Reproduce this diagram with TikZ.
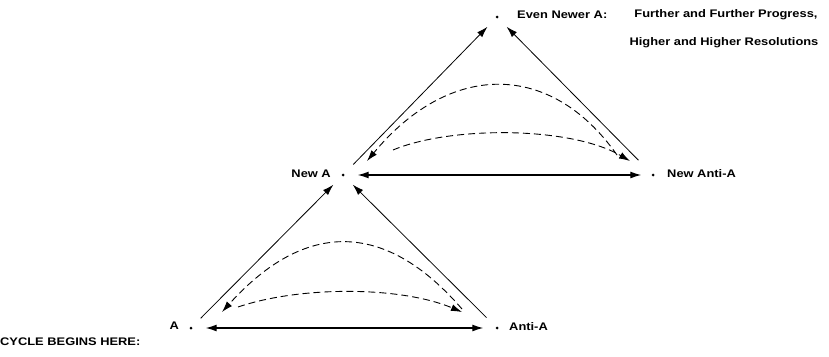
\documentclass[tikz,border=0pt]{standalone}
\usepackage{fontspec}
\setmainfont{Liberation Sans}[FakeStretch=1.17]
\usetikzlibrary{arrows.meta}
\begin{document}
\begin{tikzpicture}[x=1pt,y=-1pt,
  dot/.style={circle,fill=black,inner sep=0pt,minimum size=3pt},
  lbl/.style={inner sep=0pt,font=\fontsize{11}{13}\selectfont\bfseries},
  tip/.style={-{Latex[length=11pt,width=7pt]}},
  solidarr/.style={tip,line width=0.8pt},
  duoarr/.style={{Latex[length=11pt,width=7pt]}-{Latex[length=11pt,width=7pt]},line width=1.3pt},
  dasharr/.style={tip,line width=0.9pt,dash pattern=on 7pt off 4pt}]
\useasboundingbox (0,0) rectangle (829,356);
% dots
\node[dot] (A) at (191,328) {};
\node[dot] (AA) at (497,328) {};
\node[dot] (NA) at (343,175) {};
\node[dot] (NAA) at (653,175) {};
\node[dot] (ENA) at (497,17) {};
% labels
\node[lbl,anchor=east] (lA) at (179,326) {A};
\node[lbl,anchor=west] (lAA) at (509,327) {Anti-A};
\node[lbl,anchor=east] (lNA) at (331,174) {New A};
\node[lbl,anchor=west] (lNAA) at (667,174) {New Anti-A};
\node[lbl,anchor=west] (lENA) at (517,15) {Even Newer A:};
\node[lbl] (lF) at (726,15) {Further and Further Progress,};
\node[lbl] (lH) at (724,43) {Higher and Higher Resolutions};
\node[lbl,anchor=west] (lC) at (0,342) {CYCLE BEGINS HERE:};
% solid arrows
\draw[solidarr,shorten <=12pt,shorten >=12pt] (A) -- (NA);
\draw[solidarr,shorten <=13pt,shorten >=12pt] (AA) -- (NA);
\draw[solidarr,shorten <=13pt,shorten >=12pt] (NA) -- (ENA);
\draw[solidarr,shorten <=19pt,shorten >=12pt] (NAA) -- (ENA);
\draw[duoarr,shorten <=13pt,shorten >=12pt] (A) -- (AA);
\draw[duoarr,shorten <=13pt,shorten >=10pt] (NA) -- (NAA);
% dashed arcs, lower triangle
\coordinate (a1) at (462,309);
\coordinate (a2) at (222,312);
\coordinate (a3) at (238,307);
\coordinate (a4) at (462,312);
\draw[dasharr] (a1) .. controls (385,220) and (305,220) .. (a2);
\draw[dasharr] (a3) .. controls (300,286) and (400,286) .. (a4);
% dashed arcs, upper triangle
\coordinate (b1) at (617,155);
\coordinate (b2) at (367,161);
\coordinate (b3) at (393,150);
\coordinate (b4) at (630,161);
\draw[dasharr] (b1) .. controls (551,61) and (450,61) .. (b2);
\draw[dasharr] (b3) .. controls (450,126) and (570,126) .. (b4);
\end{tikzpicture}
\end{document}
